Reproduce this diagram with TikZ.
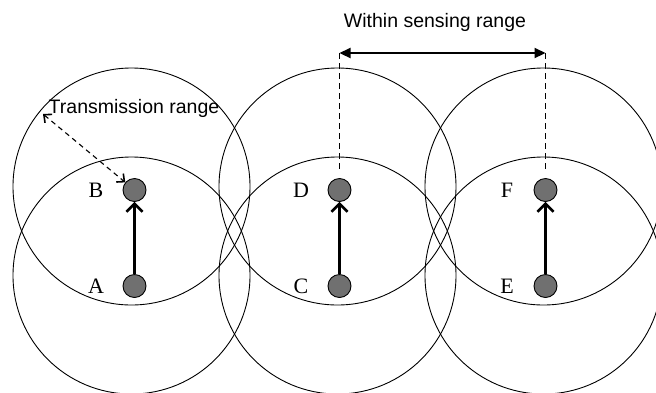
\documentclass[tikz,border=0pt]{standalone}
\usepackage{fontspec}
\setmainfont{Liberation Serif}
\setsansfont{Liberation Sans}
\usetikzlibrary{arrows.meta}
\definecolor{motegray}{RGB}{112,112,112}
\tikzset{
  rangecircle/.style={line width=0.9pt},
  mote/.style={circle,draw,line width=0.9pt,fill=motegray,minimum size=23pt,inner sep=0pt},
  motetag/.style={inner sep=0pt,font=\fontsize{22}{22}\selectfont},
  sanstext/.style={inner sep=0pt,font=\sffamily\fontsize{19.5}{19.5}\selectfont},
  hop/.style={line width=2.4pt,-{Straight Barb[length=8pt,width=16pt,line width=2.6pt]}},
  txarrow/.style={line width=1.1pt,dash pattern=on 5pt off 4pt,
    {Straight Barb[length=6pt,width=11pt,line width=1.6pt]}-{Straight Barb[length=6pt,width=11pt,line width=1.6pt]}},
  sensearrow/.style={line width=2.2pt,{Triangle[length=11pt,width=10pt]}-{Triangle[length=11pt,width=10pt]}},
  sensedash/.style={line width=1pt,dash pattern=on 6pt off 4pt}
}
\begin{document}
\begin{tikzpicture}[x=1pt,y=-1pt]
  \useasboundingbox (0,0) rectangle (656,392);
  % coverage of each sender and receiver
  \begin{scope}
    \clip (0,0) rectangle (656,392);
    \foreach \cx in {131.5,337.5,543.5}{
      \draw[rangecircle] (\cx,186.5) circle[radius=118.5pt];
      \draw[rangecircle] (\cx,275.5) circle[radius=118.5pt];
    }
  \end{scope}
  % sensor nodes
  \node[mote] (B) at (134.5,190) {};
  \node[mote] (A) at (134.5,286) {};
  \node[mote] (D) at (339.5,190) {};
  \node[mote] (C) at (339.5,286) {};
  \node[mote] (F) at (545.5,190) {};
  \node[mote] (E) at (545.5,286) {};
  \foreach \p in {A,B,C,D,E,F}{
    \node[motetag,xshift=-38.5pt] (\p tag) at (\p) {\p};
  }
  \foreach \s/\t in {A/B,C/D,E/F}{
    \draw[hop] (\s) -- (\t);
  }
  % transmission range
  \coordinate (txtip) at (43,114);
  \draw[txarrow] (txtip) -- (B);
  \node[sanstext,anchor=base] (txlabel) at (134,113) {Transmission range};
  % sensing range
  \coordinate (senseL) at (339.5,53);
  \coordinate (senseR) at (545.5,53);
  \draw[sensedash,shorten >=6pt] (senseL) -- (D.north);
  \draw[sensedash,shorten >=6pt] (senseR) -- (F.north);
  \draw[sensearrow] (senseL) -- (senseR);
  \node[sanstext,anchor=base] (senselabel) at (435,27) {Within sensing range};
\end{tikzpicture}
\end{document}
